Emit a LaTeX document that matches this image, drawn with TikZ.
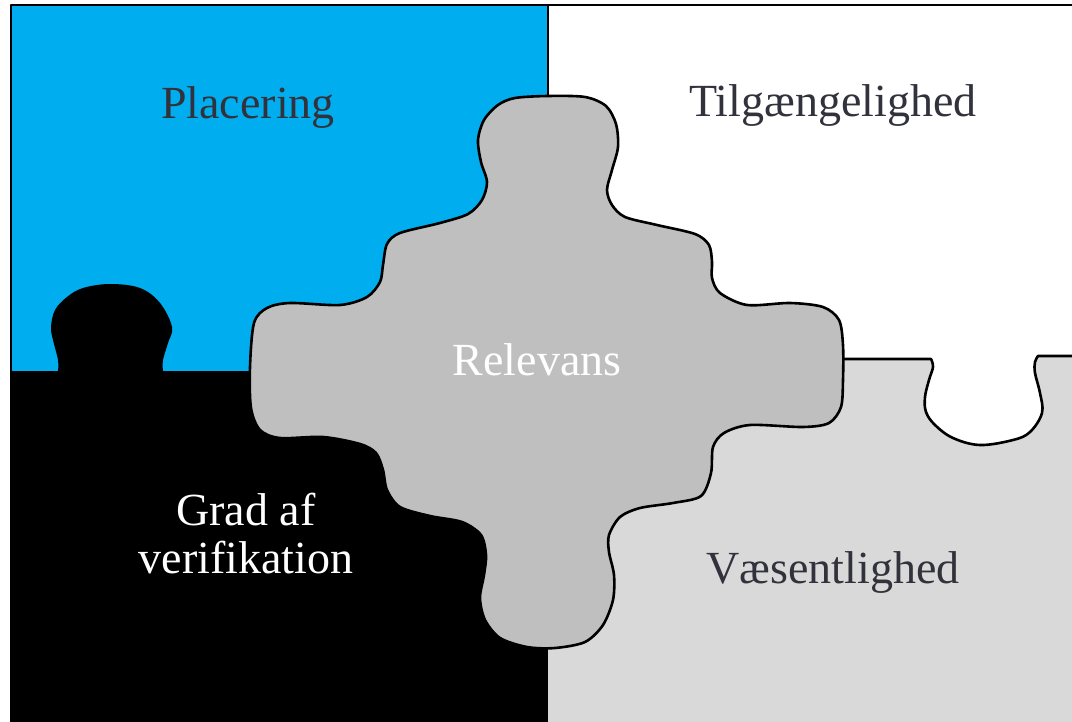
\documentclass[tikz,border=0pt]{standalone}
\usepackage{fontspec}
\setmainfont{Liberation Serif}
\definecolor{pieceblue}{RGB}{0,174,239}
\definecolor{piecelight}{RGB}{217,217,217}
\definecolor{piecemid}{RGB}{191,191,191}
\definecolor{labeldark}{RGB}{50,50,60}
\begin{document}
\begin{tikzpicture}[x=1pt,y=-1pt,
  edge/.style={draw=black,line width=2.6pt,line join=round},
  label/.style={inner sep=0pt,anchor=base,font=\fontsize{46}{48}\selectfont,text=labeldark},
  lightlabel/.style={label,text=white,align=center}]
\useasboundingbox (0,0) rectangle (1072,722);
\fill[white] (0,0) rectangle (1072,722);

% blue piece, top left
\fill[pieceblue] (11,5) rectangle (548,372);

% black piece, bottom left, with its tab reaching up
\fill[black] (10,722) -- (10,371) -- (58,371)
  -- plot[smooth,tension=0.6] coordinates {(58,371) (58,360) (53,340) (51,327) (55,310) (67,297)
     (83,288) (110,284) (140,288) (160,303) (172,327) (168,343) (163,360) (163,371)}
  -- (548,371) -- (548,722) -- cycle;

% light grey piece, bottom right, with its slot
\fill[piecelight] (548,722) -- (548,359) -- (931,359)
  -- plot[smooth,tension=0.6] coordinates {(931,359) (933,367) (929,380) (925,397) (926,412) (935,425)
     (953,438) (980,445) (1013,440) (1030,432) (1042,413) (1040,393) (1035,373) (1035,362) (1038,356)}
  -- (1072,356) -- (1072,722) -- cycle;

% outlines
\draw[edge] (11,372) -- (11,5) -- (1072,5);
\draw[edge] (548,5) -- (548,372);
\draw[edge] (548,359) -- (931,359)
  -- plot[smooth,tension=0.6] coordinates {(931,359) (933,367) (929,380) (925,397) (926,412) (935,425)
     (953,438) (980,445) (1013,440) (1030,432) (1042,413) (1040,393) (1035,373) (1035,362) (1038,356)}
  -- (1072,356);

% central piece
\filldraw[edge,fill=piecemid] plot[smooth cycle,tension=0.5] coordinates {
  (548,96) (585,97) (606,106) (616,124) (618,147) (612,170) (607,190) (612,205) (625,217)
  (657,225) (695,234) (709,245) (712,262) (712,278) (720,293) (747,305) (790,303) (823,307)
  (839,320) (843,345) (843,380) (841,407) (829,423) (803,427) (750,425) (724,433) (713,447)
  (711,473) (701,496) (673,503) (640,508) (620,517) (609,535) (609,552) (614,575) (613,600)
  (603,625) (585,642) (555,648) (527,647) (500,638) (485,620) (480,598) (484,575) (486,555)
  (481,535) (462,522) (430,516) (400,507) (387,490) (383,470) (376,453) (360,444) (323,437)
  (280,438) (260,430) (251,408) (250,367) (254,323) (267,308) (290,303) (340,305) (367,297)
  (380,282) (383,265) (387,244) (400,233) (440,223) (468,214) (482,200) (487,182) (481,162)
  (478,140) (484,120) (498,105) (515,98)};

% labels
\node[label] (placering) at (248,119) {Placering};
\node[label] (tilg) at (833,117) {Tilgængelighed};
\node[lightlabel] (relevans) at (537,375) {Relevans};
\node[label] (vaes) at (833,583) {Væsentlighed};
\node[lightlabel] (grad) at (246,573) {Grad af\\verifikation};
\end{tikzpicture}
\end{document}
